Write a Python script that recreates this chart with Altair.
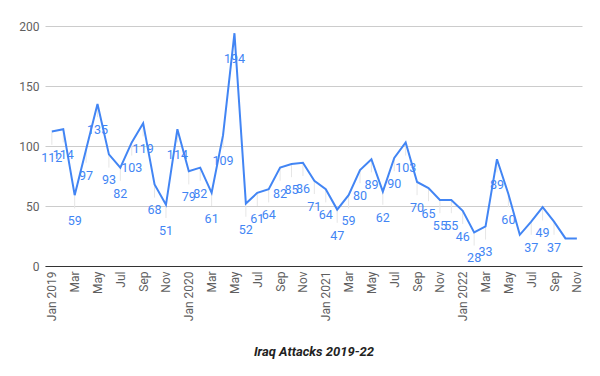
import altair as alt
import pandas as pd

months = ["Jan", "Feb", "Mar", "Apr", "May", "Jun", "Jul", "Aug", "Sep", "Oct", "Nov", "Dec"]
years = [2019, 2020, 2021, 2022]
attacks_2019 = [112, 114, 59, 97, 135, 93, 82, 103, 119, 68, 51, 114]
attacks_2020 = [79, 82, 61, 109, 194, 52, 61, 64, 82, 85, 86, 71]
attacks_2021 = [64, 47, 59, 80, 89, 62, 90, 103, 70, 65, 55, 55]
attacks_2022 = [46, 28, 33, 89, 60, 26, 37, 49, 37, 23, 23]
# months whose data label is hidden (overlap) in the original
hidden_labels = ["Jun 2022", "Oct 2022", "Nov 2022"]

rows = []
for y, vals in zip(years, [attacks_2019, attacks_2020, attacks_2021, attacks_2022]):
    for m, v in zip(months, vals):
        rows.append({"month": f"{m} {y}", "attacks": v})
df = pd.DataFrame(rows)
df["idx"] = range(len(df))
df["show"] = ~df["month"].isin(hidden_labels)
df["lead"] = df["attacks"] - 11

label_names = [m["month"] for m in rows]
tick_vals = list(range(0, len(rows), 2))
label_expr = "[" + ",".join(
    f"'{n}'" if n.startswith("Jan") else f"'{n.split()[0]}'" for n in label_names
) + "][datum.value]"

x = alt.X(
    "idx:Q",
    scale=alt.Scale(domain=[-0.6, 46.45], nice=False, zero=False),
    axis=alt.Axis(
        values=tick_vals,
        labelExpr=label_expr,
        labelAngle=-90,
        labelAlign="right",
        labelBaseline="middle",
        labelPadding=5,
        labelColor="#5f5f5f",
        labelFontSize=12,
        labelFont="Roboto",
        ticks=False,
        grid=False,
        domainColor="#333333",
        domainWidth=1,
        title="Iraq Attacks 2019-22",
        titleFont="Roboto",
        titleFontSize=13,
        titleFontStyle="italic",
        titleFontWeight="bold",
        titleColor="#222222",
        titlePadding=25,
    ),
)
y = alt.Y(
    "attacks:Q",
    scale=alt.Scale(domain=[0, 200], nice=False),
    axis=alt.Axis(
        values=[0, 50, 100, 150, 200],
        ticks=False,
        domain=False,
        labelPadding=6,
        labelColor="#5f5f5f",
        labelFontSize=12,
        labelFont="Roboto",
        gridColor="#cccccc",
        title=None,
    ),
)

base = alt.Chart(df)

leaders = base.transform_filter("datum.show").mark_rule(color="#e6e6e6", strokeWidth=1).encode(
    x=x, y=y, y2="lead:Q"
)
line = base.mark_line(color="#4285F4", strokeWidth=2).encode(x=x, y=y)
labels = base.transform_filter("datum.show").mark_text(
    color="#4285F4", font="Roboto", fontSize=12.5, dy=26, baseline="middle", align="center"
).encode(x=x, y=y, text="attacks:Q")

chart = (
    alt.layer(leaders, line, labels)
    .properties(
        width=537,
        height=240,
        autosize=alt.AutoSizeParams(type="none"),
        padding={"left": 45, "top": 26, "right": 18, "bottom": 110},
    )
    .configure_view(stroke=None)
)

chart.save("out.html", embed_options={"renderer": "svg", "actions": False})
